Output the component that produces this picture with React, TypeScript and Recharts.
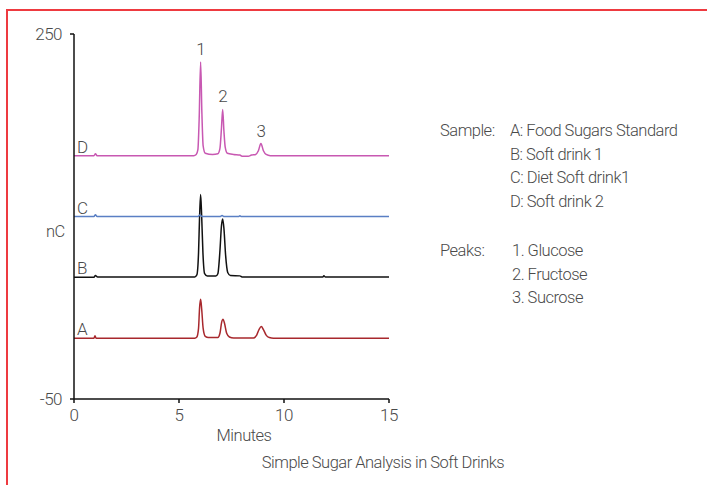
import React from 'react';
import { LineChart, Line, XAxis, YAxis, ReferenceDot } from 'recharts';

// chromatogram traces, [minutes, nC] (offset baselines included)
const traceD: [number, number][] = [
  [0, 150], [0.95, 150], [1.02, 151.5], [1.1, 150], [5.7, 150], [5.82, 151], [5.9, 155], [5.96, 180],
  [6.03, 227], [6.09, 185], [6.15, 158], [6.25, 152], [6.6, 151], [6.85, 151.5], [6.95, 156], [7.02, 172],
  [7.08, 188], [7.14, 170], [7.2, 157], [7.3, 152], [7.6, 151], [7.9, 150.5], [8.0, 149.5], [8.3, 149.5],
  [8.45, 150.5], [8.65, 151], [8.78, 154], [8.9, 160], [9.02, 154], [9.15, 151], [9.35, 150], [15, 150],
];
const traceC: [number, number][] = [
  [0, 100], [0.95, 100], [1.02, 101.5], [1.1, 100], [5.9, 100], [6.0, 101.2], [6.1, 100], [6.95, 100],
  [7.05, 100.8], [7.15, 100], [7.85, 100], [7.9, 100.7], [7.95, 100], [15, 100],
];
const traceB: [number, number][] = [
  [0, 50], [0.95, 50], [1.02, 51.5], [1.12, 50.3], [5.75, 50.3], [5.85, 52], [5.93, 70], [5.98, 100],
  [6.03, 118], [6.08, 100], [6.14, 70], [6.22, 53], [6.35, 51], [6.75, 51], [6.85, 53], [6.95, 72],
  [7.02, 92], [7.08, 98], [7.14, 90], [7.22, 68], [7.32, 54], [7.45, 51.5], [7.9, 51.2], [8.0, 50.3],
  [11.85, 50.3], [11.9, 51.3], [11.97, 50.3], [15, 50.3],
];
const traceA: [number, number][] = [
  [0, 0], [0.95, 0], [1.0, 2], [1.05, 0], [5.75, 0], [5.85, 1], [5.93, 8], [5.98, 25], [6.03, 32],
  [6.08, 24], [6.15, 8], [6.25, 1.5], [6.4, 0.5], [6.85, 0.5], [6.95, 4], [7.03, 13], [7.1, 15.5],
  [7.17, 12], [7.27, 4], [7.4, 1], [7.6, 0.2], [8.55, 0.2], [8.7, 2.5], [8.82, 7.5], [8.92, 9.5],
  [9.02, 7], [9.15, 2.5], [9.3, 0.5], [9.5, 0], [15, 0],
];

const traceLabels = ['A', 'B', 'C', 'D'];
const baselines = [0, 50, 100, 150];
const peakNames = ['1', '2', '3'];
const peakTimes = [6.03, 7.08, 8.9];
const peakTops = [227, 188, 160];

const xTicks = [0, 5, 10, 15];
const yTicks = [-50, 250];

const sampleLines = ['A: Food Sugars Standard', 'B: Soft drink 1', 'C: Diet Soft drink1', 'D: Soft drink 2'];
const peakLines = ['1. Glucose', '2. Fructose', '3. Sucrose'];

const FONT = "Roboto, 'Liberation Sans', sans-serif";
const TEXT = '#4a4a4a';
const W = 300;
const FS = 16.5;
const LS = '-0.5px';

const toRows = (pts: [number, number][]) => pts.map(([t, v]) => ({ t, v }));

const series = [
  { name: 'A', data: toRows(traceA), color: '#a8282d' },
  { name: 'B', data: toRows(traceB), color: '#111111' },
  { name: 'C', data: toRows(traceC), color: '#5a7fc4' },
  { name: 'D', data: toRows(traceD), color: '#c858b2' },
];

const tickStyle = { fill: TEXT, fontSize: 17, fontFamily: FONT, fontWeight: W, letterSpacing: LS };

export default function App() {
  return (
    <div style={{ position: 'absolute', left: 0, top: 0, width: 707, height: 485, background: '#fff', fontFamily: FONT, fontWeight: W, color: TEXT, fontSize: FS, letterSpacing: LS }}>
      <div style={{ position: 'absolute', left: 6, top: 9, width: 720, height: 500, borderTop: '2px solid #ee3a40', borderLeft: '2px solid #ee3a40' }} />
      <div style={{ position: 'absolute', left: 0, top: 0 }}>
        <LineChart width={707} height={485} margin={{ top: 34, right: 318, bottom: 56, left: 34 }}>
          <XAxis
            dataKey="t"
            type="number"
            domain={[0, 15]}
            ticks={xTicks}
            allowDuplicatedCategory={false}
            stroke="#111"
            strokeWidth={1.5}
            tickSize={4}
            tickMargin={6}
            height={30}
            tick={tickStyle}
          />
          <YAxis
            type="number"
            domain={[-50, 250]}
            ticks={yTicks}
            stroke="#111"
            strokeWidth={1.5}
            tickSize={4}
            tickMargin={8}
            width={40}
            tick={tickStyle}
          />
          {series.map(s => (
            <Line
              key={s.name}
              data={s.data}
              dataKey="v"
              type="monotone"
              stroke={s.color}
              strokeWidth={1.5}
              dot={false}
              isAnimationActive={false}
            />
          ))}
          {traceLabels.map((lab, i) => (
            <ReferenceDot
              key={lab}
              x={0}
              y={baselines[i]}
              r={0}
              stroke="none"
              fill="none"
              label={{ value: lab, position: 'insideBottomLeft', offset: 3, ...tickStyle }}
            />
          ))}
          {peakNames.map((p, i) => (
            <ReferenceDot
              key={p}
              x={peakTimes[i]}
              y={peakTops[i]}
              r={0}
              stroke="none"
              fill="none"
              label={{ value: p, position: 'top', offset: 7, ...tickStyle }}
            />
          ))}
        </LineChart>
      </div>
      <div style={{ position: 'absolute', left: 46, top: 222 }}>nC</div>
      <div style={{ position: 'absolute', left: 144, width: 200, top: 426, textAlign: 'center' }}>Minutes</div>
      <div style={{ position: 'absolute', left: 183, width: 400, top: 453, textAlign: 'center' }}>
        Simple Sugar Analysis in Soft Drinks
      </div>
      <div style={{ position: 'absolute', left: 440, top: 119, lineHeight: '23.5px' }}>Sample:</div>
      <div style={{ position: 'absolute', left: 510, top: 119, lineHeight: '23.5px' }}>
        {sampleLines.map(l => <div key={l}>{l}</div>)}
      </div>
      <div style={{ position: 'absolute', left: 440, top: 239, lineHeight: '23.5px' }}>Peaks:</div>
      <div style={{ position: 'absolute', left: 512, top: 239, lineHeight: '23.5px' }}>
        {peakLines.map(l => <div key={l}>{l}</div>)}
      </div>
    </div>
  );
}
